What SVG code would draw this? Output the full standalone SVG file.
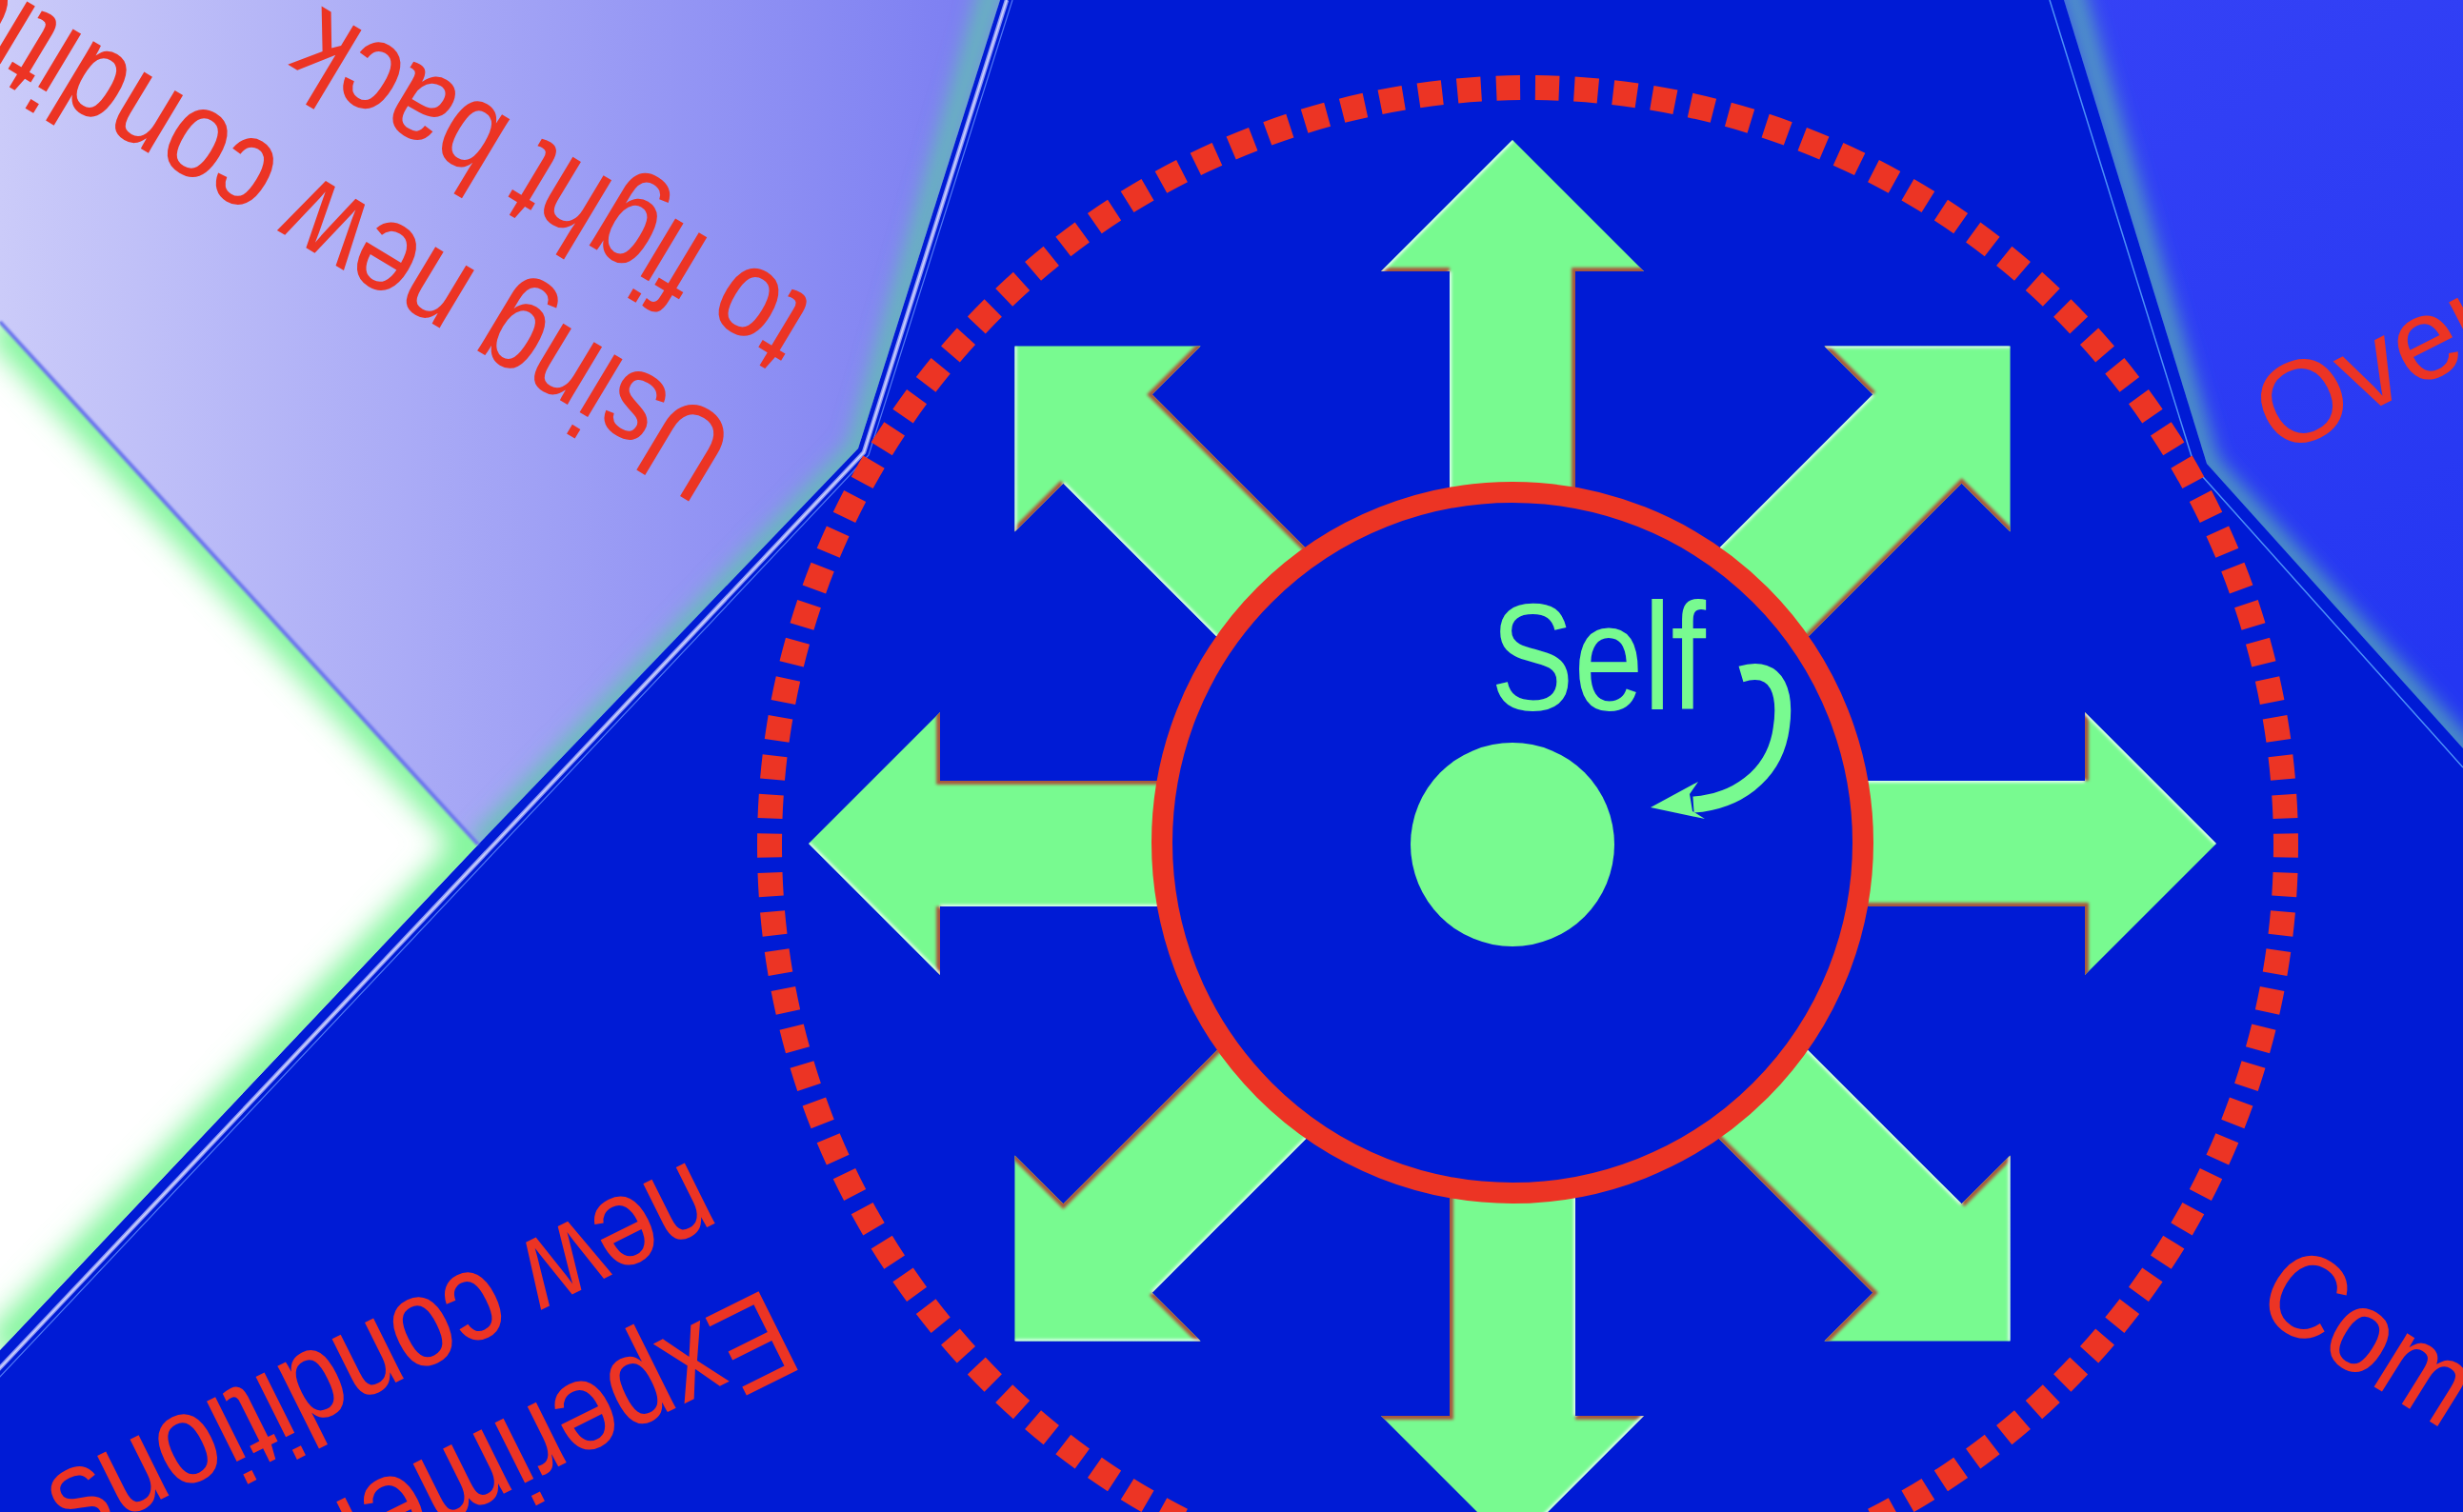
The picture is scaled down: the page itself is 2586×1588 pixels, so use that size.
<svg xmlns="http://www.w3.org/2000/svg" width="2586" height="1588" viewBox="0 0 2586 1588">
<defs>
  <style>
    .lbl { font-family: "Liberation Sans", Arial, sans-serif; fill: #EC3424; }
    .green { fill: #78FA90; }
    .glowline { fill: none; filter: url(#glow); }
  </style>
  <linearGradient id="lav" gradientUnits="userSpaceOnUse" x1="0" y1="0" x2="1000" y2="0">
    <stop offset="0" stop-color="#CBCBF9"/>
    <stop offset="1" stop-color="#7E80F2"/>
  </linearGradient>
  <linearGradient id="bright" gradientUnits="userSpaceOnUse" x1="2167" y1="0" x2="2586" y2="700">
    <stop offset="0" stop-color="#3542F6"/>
    <stop offset="1" stop-color="#2436F2"/>
  </linearGradient>
  <filter id="glow" filterUnits="userSpaceOnUse" x="-200" y="-200" width="3000" height="2000">
    <feGaussianBlur stdDeviation="11"/>
  </filter>
  <filter id="glowW" filterUnits="userSpaceOnUse" x="-200" y="-200" width="3000" height="2000">
    <feGaussianBlur stdDeviation="15"/>
  </filter>
  <filter id="thin" filterUnits="userSpaceOnUse" x="-200" y="-200" width="3000" height="2000">
    <feGaussianBlur stdDeviation="1.2"/>
  </filter>
  <filter id="soft" filterUnits="userSpaceOnUse" x="-200" y="-800" width="400" height="600">
    <feGaussianBlur stdDeviation="1.6"/>
  </filter>
  <clipPath id="clipLav"><polygon points="0,0 1050,0 901,471 502,887 0,338"/></clipPath>
  <clipPath id="clipWhite"><polygon points="0,338 502,887 0,1418"/></clipPath>
  <clipPath id="clipBright"><polygon points="2167,0 2317,487 2586,786 2586,0"/></clipPath>
  <polygon id="arrowShape" points="0,-739 138,-601 66,-601 66,-330 -66,-330 -66,-601 -138,-601"/>
  <clipPath id="arrowClip"><use href="#arrowShape"/></clipPath>
  <g id="arrowT">
    <use href="#arrowShape" class="green"/>
    <g clip-path="url(#arrowClip)">
      <path d="M -140,-601 H -66 M 66,-320 V -601 H 140" stroke="#A8583C" stroke-width="8" fill="none" filter="url(#soft)"/>
      <path d="M 0,-739 L -138,-601 M -66,-601 V -320" stroke="#E4FFF4" stroke-width="4" fill="none" filter="url(#soft)"/>
    </g>
  </g>
</defs>

<g id="background">
  <rect x="0" y="0" width="2586" height="1588" fill="#001BD5"/>
</g>

<g id="segment-top-left">
  <polygon points="0,0 1050,0 901,471 502,887 0,338" fill="url(#lav)"/>
  <g clip-path="url(#clipLav)">
    <polyline class="glowline" points="1050,-40 901,471 502,887" stroke="#5CC8A8" stroke-width="18"/>
  </g>
</g>

<g id="segment-left-gap">
  <polygon points="0,338 502,887 0,1418" fill="#FFFFFF"/>
  <g clip-path="url(#clipWhite)">
    <polyline points="0,338 502,887 0,1418" fill="none" stroke="#7CF596" stroke-width="40" filter="url(#glowW)"/>
  </g>
  <line x1="0" y1="338" x2="502" y2="887" stroke="#6C74EE" stroke-width="4" filter="url(#thin)"/>
</g>

<g id="segment-top-right">
  <polygon points="2167,0 2317,487 2586,786 2586,0" fill="url(#bright)"/>
  <g clip-path="url(#clipBright)">
    <polyline class="glowline" points="2167,-40 2317,487 2620,824" stroke="#5CB8B0" stroke-width="18"/>
  </g>
</g>

<g id="borders" fill="none">
  <polyline points="1057,0 907,475 -40,1479" stroke="#8F9AF5" stroke-width="4.5"/>
  <polyline points="1057,0 907,475 -40,1479" stroke="#CDD1FB" stroke-width="1.5"/>
  <polyline points="1063,0 912,478 -35,1483" stroke="#5078F6" stroke-width="1.2"/>
  <polyline points="2152,0 2305,492 2586,806" stroke="#4C90F8" stroke-width="1.5"/>
</g>

<g id="dotted-ring">
  <circle cx="1604" cy="888" r="796" fill="none" stroke="#EC3424" stroke-width="26" pathLength="1220" stroke-dasharray="6.1 3.9" stroke-dashoffset="3.05"/>
</g>

<g id="connectors">
  <use href="#arrowT" transform="translate(1588 886) rotate(0)"/>
  <use href="#arrowT" transform="translate(1588 886) rotate(45)"/>
  <use href="#arrowT" transform="translate(1588 886) rotate(90)"/>
  <use href="#arrowT" transform="translate(1588 886) rotate(135)"/>
  <use href="#arrowT" transform="translate(1588 886) rotate(180)"/>
  <use href="#arrowT" transform="translate(1588 886) rotate(225)"/>
  <use href="#arrowT" transform="translate(1588 886) rotate(270)"/>
  <use href="#arrowT" transform="translate(1588 886) rotate(315)"/>
</g>

<g id="self-node">
  <circle cx="1588" cy="885" r="368" fill="#001BD5" stroke="#EC3424" stroke-width="22"/>
  <circle cx="1588" cy="887" r="107" class="green"/>
  <text x="1565" y="745" font-family="'Liberation Sans', Arial, sans-serif" font-size="159" textLength="226" lengthAdjust="spacingAndGlyphs" class="green">Self</text>
  <path d="M 1828 708 C 1868 696, 1877 730, 1869 772 C 1860 815, 1823 842, 1778 845" fill="none" stroke="#78FA90" stroke-width="17"/>
  <polygon points="1733,848 1783,821 1774,834 1777,852 1790,860" class="green"/>
</g>

<g id="labels">
  <text class="lbl" font-size="134" transform="translate(778 452) rotate(211) scale(0.84 1)">Using new conditions</text>
  <text class="lbl" font-size="134" transform="translate(858 319) rotate(211) scale(0.84 1)">to fight back</text>
  <text class="lbl" font-size="134" transform="translate(805 1352) rotate(153.5) scale(0.86 1)">Experiment</text>
  <text class="lbl" font-size="134" transform="translate(726 1218) rotate(153.5) scale(0.86 1)">new conditions</text>
  <text class="lbl" font-size="122" transform="translate(2394 480) rotate(-27)">Over</text>
  <text class="lbl" font-size="125" transform="translate(2364 1376) rotate(32) scale(0.9 1)">Com</text>
</g>
</svg>
